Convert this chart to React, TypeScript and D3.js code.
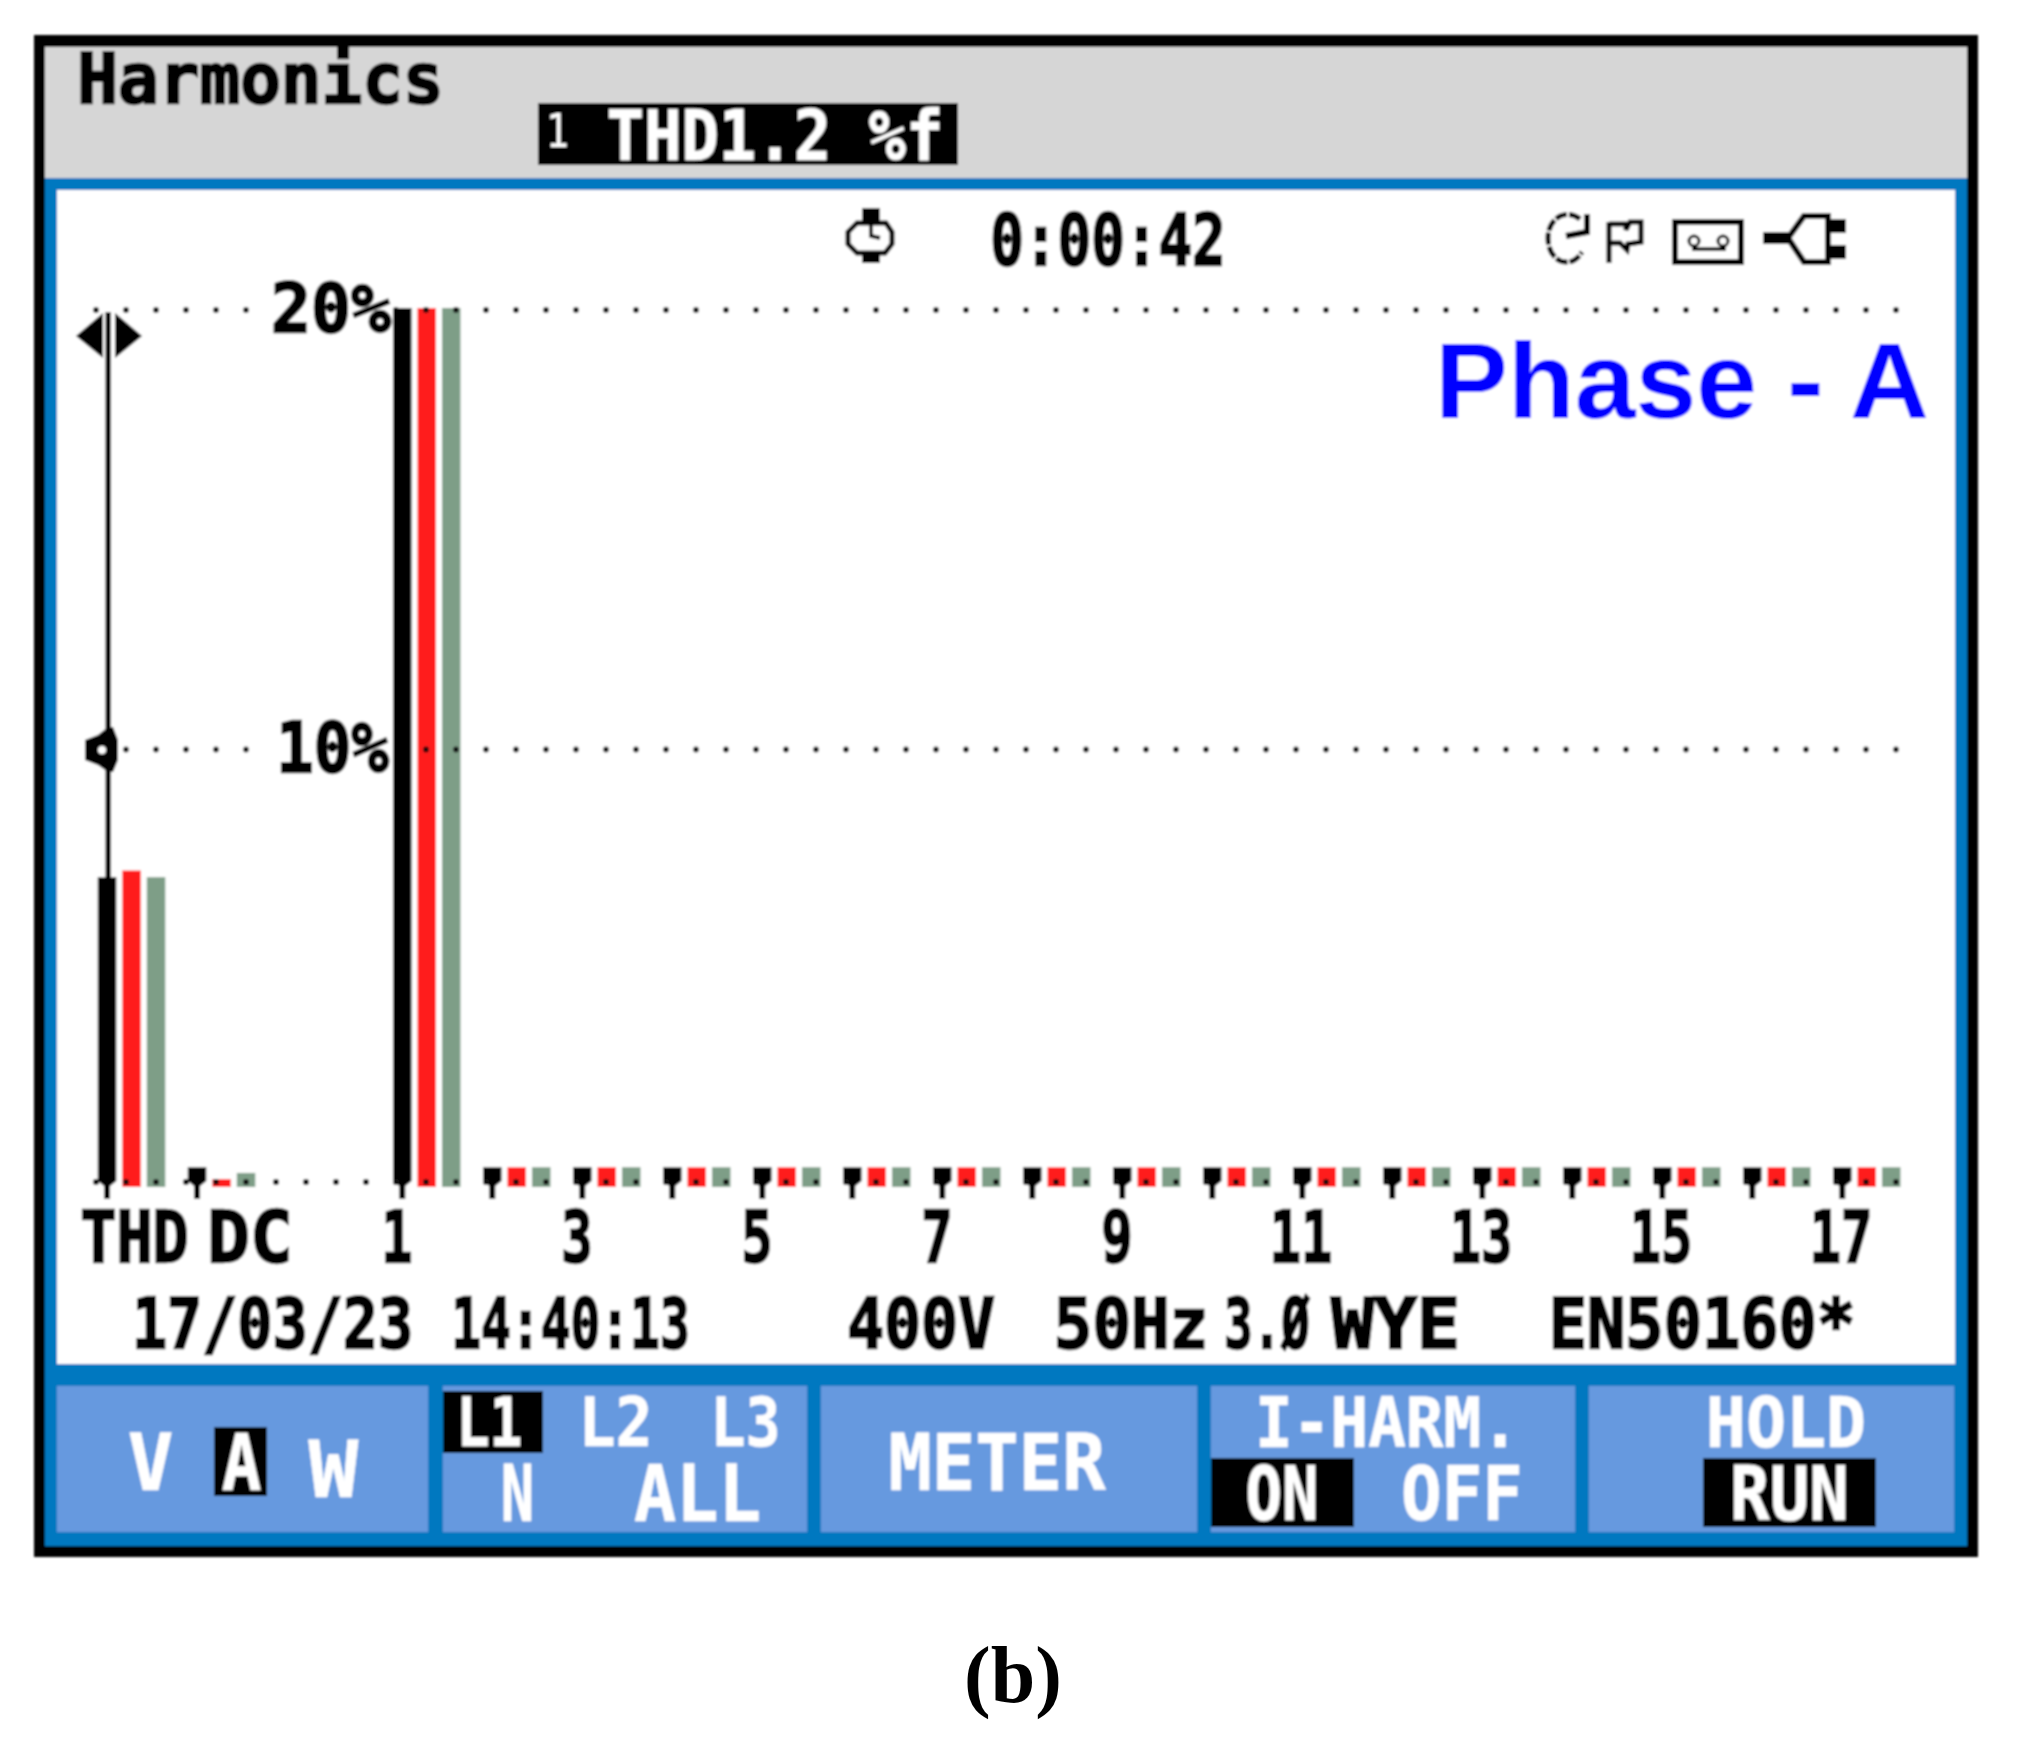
import React from "react";
import * as d3 from "d3";

// ---- data ----
const categories = ["THD", "DC", "1", "2", "3", "4", "5", "6", "7", "8", "9", "10", "11", "12", "13", "14", "15", "16", "17"];
const slots = [-2.28, -1.28, 1, 2, 3, 4, 5, 6, 7, 8, 9, 10, 11, 12, 13, 14, 15, 16, 17];
const seriesNames = ["L1", "L2", "L3"];
const seriesColors = ["#000000", "#FF1A1A", "#7E9E87"];
const l1Values = [7.05, 0.45, 20, 0.45, 0.45, 0.45, 0.45, 0.45, 0.45, 0.45, 0.45, 0.45, 0.45, 0.45, 0.45, 0.45, 0.45, 0.45, 0.45];
const l2Values = [7.2, 0.18, 20, 0.45, 0.45, 0.45, 0.45, 0.45, 0.45, 0.45, 0.45, 0.45, 0.45, 0.45, 0.45, 0.45, 0.45, 0.45, 0.45];
const l3Values = [7.05, 0.32, 20, 0.45, 0.45, 0.45, 0.45, 0.45, 0.45, 0.45, 0.45, 0.45, 0.45, 0.45, 0.45, 0.45, 0.45, 0.45, 0.45];
const gridValues = [0, 10, 20];
const dotIndices = d3.range(0, 61);
const xTickLabels = ["1", "3", "5", "7", "9", "11", "13", "15", "17"];

const FONT = "'DejaVu Sans Mono', monospace";

function T({ t, x0, x1, y0, y1, fill = "#000", font = FONT, weight = 700, grow = 1.015, heavy }: any) {
  const w = x1 - x0;
  const sw = heavy ?? (fill === "#000" ? 2.4 : fill === "#fff" ? 0.6 : 0);
  return (
    <text
      x={x0 - (w * (grow - 1)) / 2}
      y={y1}
      textLength={w * grow}
      lengthAdjust="spacingAndGlyphs"
      fontFamily={font}
      fontWeight={weight}
      fontSize={(y1 - y0) / 0.729}
      fill={fill}
      stroke={fill}
      strokeWidth={sw}
    >
      {t}
    </text>
  );
}

export default function App() {
  const x = d3.scaleLinear().domain([1, 17]).range([393, 1833]);
  const y = d3.scaleLinear().domain([0, 20]).range([1187, 308]);
  const dotX = d3.scaleLinear().domain([0, 60]).range([96, 1896]);
  const offset = d3.scaleBand<string>().domain(seriesNames).range([0, 67.5]).paddingInner(0.245);
  const bw = offset.bandwidth();
  const values = [l1Values, l2Values, l3Values];
  const dotRowY = (v: number) => (v === 0 ? 1182 : y(v) + 2);
  const line = d3.line();

  const blackBar = (left: number, v: number) =>
    line([
      [left, y(v)],
      [left + bw, y(v)],
      [left + bw, y(0) - 6],
      [left + bw / 2 + 3, y(0) - 1],
      [left + bw / 2 + 3, y(0) + 12],
      [left + bw / 2 - 3, y(0) + 12],
      [left + bw / 2 - 3, y(0) - 1],
      [left, y(0) - 6],
    ]) + "Z";

  const panels = [
    [57, 428],
    [443, 807],
    [821, 1197],
    [1211, 1575],
    [1589, 1954],
  ];
  const tickCenters: Record<string, number> = { "1": 4, "3": 4, "5": 4, "7": 4, "9": 4 };

  return (
    <svg width={2019} height={1741} style={{ position: "absolute", left: 0, top: 0 }}>
      <defs>
        <filter id="soft" x="-2%" y="-2%" width="104%" height="104%">
          <feGaussianBlur stdDeviation="1.1" />
        </filter>
      </defs>
      <rect width={2019} height={1741} fill="#fff" />
      <g filter="url(#soft)">
        {/* frame */}
        <rect x={34} y={35} width={1944} height={1522} fill="#000" />
        <rect x={45} y={47} width={1922} height={1499} fill="#0078C0" />
        <rect x={45} y={47} width={1922} height={131} fill="#D6D6D6" />
        <rect x={57} y={190} width={1898} height={1174} fill="#fff" />

        {/* header */}
        <T t="Harmonics" x0={80} x1={441} y0={53} y1={103} />
        <rect x={538} y={103} width={420} height={62} fill="#000" />
        <T t="1" x0={546} x1={569} y0={113} y1={147} fill="#fff" weight={400} heavy={0} />
        <T t="THD1.2 %f" x0={609} x1={941} y0={110} y1={160} fill="#fff" />

        {/* status line */}
        <g fill="none" stroke="#000">
          <path d="M857 223 L886 223 L892 232 L892 244 L885 253 L857 253 L848 244 L848 232 Z" strokeWidth={5} />
          <rect x={862} y={208} width={18} height={15} fill="#000" stroke="none" />
          <rect x={862} y={253} width={18} height={10} fill="#000" stroke="none" />
          <path d="M871 222 L871 236 L880 238" strokeWidth={4} />
          <path d="M1580 219 C1566 208 1548 218 1548 238 C1548 252 1556 262 1566 262 C1574 262 1578 258 1582 252" strokeWidth={5} strokeDasharray="12 2" />
          <path d="M1587 214 L1587 232 L1566 236" strokeWidth={6} />
          <path d="M1609 222 L1609 263 M1609 224 L1626 224 L1626 230 L1630 222 L1641 222 L1641 242 L1628 244 L1627 250 L1620 243 L1609 243" strokeWidth={5} />
          <rect x={1675} y={222} width={66} height={40} strokeWidth={6} />
          <circle cx={1694} cy={241} r={5} strokeWidth={3} />
          <circle cx={1723} cy={241} r={5} strokeWidth={3} />
          <path d="M1692 249 L1726 249" strokeWidth={4} />
          <path d="M1828 216 L1804 216 L1788 238 L1804 262 L1828 262 Z" strokeWidth={6} fill="#fff" />
        </g>
        <g fill="#000">
          <rect x={1763} y={232} width={26} height={12} />
          <rect x={1828} y={219} width={18} height={14} />
          <rect x={1828} y={245} width={18} height={14} />
        </g>
        <T t="0:00:42" x0={992} x1={1224} y0={213} y1={265} />

        {/* grid dots */}
        {gridValues.map((v) =>
          dotIndices.map((k) => <circle key={v + "-" + k} cx={dotX(k)} cy={dotRowY(v)} r={2.9} fill="#111" />)
        )}

        {/* bars */}
        {categories.map((c, i) =>
          seriesNames.map((s, j) => {
            const left = x(slots[i]) + (offset(s) as number);
            return j === 0 ? (
              <path key={c + s} d={blackBar(left, values[j][i]) as string} fill={seriesColors[j]} />
            ) : (
              <rect key={c + s} x={left} y={y(values[j][i])} width={bw} height={y(0) - y(values[j][i])} fill={seriesColors[j]} />
            );
          })
        )}
        {/* dots over coloured bars */}
        {gridValues.map((v) =>
          dotIndices
            .filter((k) => (v === 0 ? true : dotX(k) > 405 && dotX(k) < 465))
            .map((k) => <circle key={"o" + v + k} cx={dotX(k)} cy={dotRowY(v)} r={2.9} fill="#111" />)
        )}

        {/* y labels */}
        <rect x={262} y={280} width={130} height={55} fill="#fff" />
        <rect x={262} y={720} width={130} height={55} fill="#fff" />
        <T t="20%" x0={272} x1={390} y0={283} y1={332} />
        <T t="10%" x0={277} x1={388} y0={722} y1={772} />

        {/* cursor */}
        <rect x={105.5} y={312} width={5.5} height={870} fill="#000" />
        <path d="M76 336 L103 313 L103 358 Z" fill="#000" />
        <path d="M142 336 L115 313 L115 358 Z" fill="#000" />
        <path d="M85 740 L98 735 L108 727 L113 727 L118 740 L118 760 L113 772 L108 772 L98 765 L85 760 Z" fill="#000" />
        <circle cx={102} cy={750} r={4} fill="#fff" />

        {/* Phase label */}
        <T t="Phase - A" x0={1435} x1={1929} y0={340} y1={418} fill="#0000FF" font="'Liberation Sans', sans-serif" grow={1} />

        {/* x labels */}
        <T t="THD" x0={81} x1={188} y0={1210} y1={1262} />
        <T t="DC" x0={208} x1={292} y0={1210} y1={1262} />
        {xTickLabels.map((l) => {
          const w = l.length * 31;
          const c = x(+l) + (tickCenters[l] ?? 8);
          return <T key={l} t={l} x0={c - w / 2} x1={c + w / 2} y0={1210} y1={1262} />;
        })}

        {/* info line */}
        <T t="17/03/23" x0={134} x1={411} y0={1297} y1={1348} />
        <T t="14:40:13" x0={453} x1={688} y0={1297} y1={1348} />
        <T t="400V" x0={848} x1={994} y0={1297} y1={1348} />
        <T t="50Hz" x0={1055} x1={1207} y0={1297} y1={1348} />
        <T t="3.Ø" x0={1225} x1={1309} y0={1297} y1={1348} />
        <T t="WYE" x0={1332} x1={1459} y0={1297} y1={1348} />
        <T t="EN50160*" x0={1551} x1={1853} y0={1297} y1={1348} />

        {/* soft keys */}
        {panels.map(([a, b], i) => (
          <rect key={i} x={a} y={1386} width={b - a} height={146} fill="#6699DF" />
        ))}
        <rect x={214} y={1427} width={53} height={69} fill="#000" />
        <rect x={443} y={1391} width={100} height={62} fill="#000" />
        <rect x={1211} y={1458} width={143} height={69} fill="#000" />
        <rect x={1703} y={1458} width={173} height={69} fill="#000" />
        <T t="V" x0={128} x1={173} y0={1433} y1={1490} fill="#fff" />
        <T t="A" x0={222} x1={261} y0={1433} y1={1490} fill="#fff" />
        <T t="W" x0={309} x1={358} y0={1440} y1={1497} fill="#fff" />
        <T t="L1" x0={457} x1={522} y0={1397} y1={1446} fill="#fff" />
        <T t="L2" x0={579} x1={652} y0={1397} y1={1446} fill="#fff" />
        <T t="L3" x0={711} x1={780} y0={1397} y1={1446} fill="#fff" />
        <T t="N" x0={501} x1={534} y0={1464} y1={1521} fill="#fff" />
        <T t="ALL" x0={635} x1={760} y0={1464} y1={1521} fill="#fff" />
        <T t="METER" x0={890} x1={1104} y0={1433} y1={1490} fill="#fff" />
        <T t="I-HARM." x0={1257} x1={1517} y0={1397} y1={1447} fill="#fff" />
        <T t="ON" x0={1246} x1={1318} y0={1465} y1={1520} fill="#fff" />
        <T t="OFF" x0={1402} x1={1522} y0={1465} y1={1520} fill="#fff" />
        <T t="HOLD" x0={1707} x1={1865} y0={1397} y1={1447} fill="#fff" />
        <T t="RUN" x0={1731} x1={1848} y0={1465} y1={1520} fill="#fff" />
      </g>

      {/* caption */}
      <text x={1013} y={1702} textAnchor="middle" fontFamily="'Liberation Serif', serif" fontWeight={700} fontSize={80} fill="#000">
        (b)
      </text>
    </svg>
  );
}
